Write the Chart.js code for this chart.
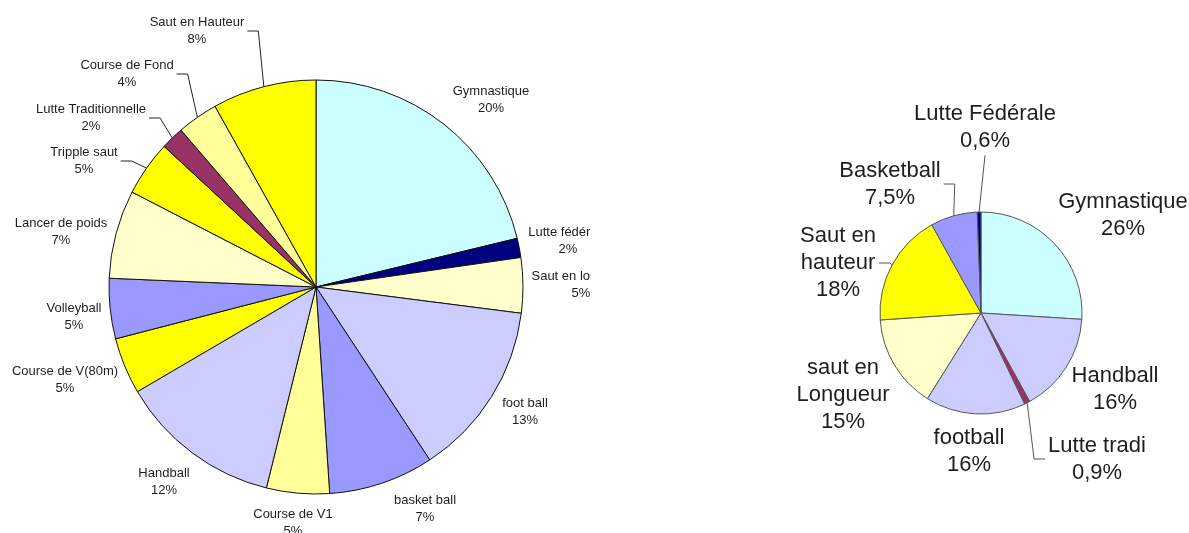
<!DOCTYPE html>
<html lang="fr">
<head>
    <meta charset="UTF-8">
    <title>Répartition des disciplines</title>
    <script src="https://cdn.jsdelivr.net/npm/chart.js"></script>
    <style>
        body {
            margin: 0;
            background: #fff;
            width: 1189px;
            height: 533px;
            overflow: hidden;
            position: relative;
        }
        #leftPie { position: absolute; left: 0; top: 0; }
        #rightPie { position: absolute; left: 600px; top: 0; }
    </style>
</head>
<body>
    <canvas id="leftPie" width="591" height="533"></canvas>
    <canvas id="rightPie" width="589" height="533"></canvas>

    <script>
        // left pie (slice sizes, labels as printed)
        const leftNames = ['Gymnastique', 'Lutte fédérale', 'Saut en longueur', 'foot ball', 'basket ball',
            'Course de V1', 'Handball', 'Course de V(80m)', 'Volleyball', 'Lancer de poids',
            'Tripple saut', 'Lutte Traditionnelle', 'Course de Fond', 'Saut en Hauteur'];
        const leftValues = [21.2, 1.5, 4.3, 13.7, 8.2, 4.9, 12.7, 4.4, 4.7, 6.9, 4.3, 1.8, 3.2, 8.1];
        const leftPct = ['20%', '2%', '5%', '13%', '7%', '5%', '12%', '5%', '5%', '7%', '5%', '2%', '4%', '8%'];

        // right pie
        const rightNames = ['Gymnastique', 'Handball', 'Lutte tradi', 'football', 'saut en\nLongueur',
            'Saut en\nhauteur', 'Basketball', 'Lutte Fédérale'];
        const rightValues = [26, 16, 0.9, 16, 15, 18, 7.5, 0.6];

        const leftColors = ['#CCFFFF', '#000080', '#FFFFCC', '#CCCCFF', '#9999FF', '#FFFF99', '#CCCCFF',
            '#FFFF00', '#9999FF', '#FFFFCC', '#FFFF00', '#993366', '#FFFF99', '#FFFF00'];
        const rightColors = ['#CCFFFF', '#CCCCFF', '#993366', '#CCCCFF', '#FFFFCC', '#FFFF00', '#9999FF', '#000080'];

        // label block centres, offset from the pie centre
        const leftLayout = [[175, -187], [252, -46], [265, -2], [209, 125], [109, 222], [-23, 236], [-152, 195],
            [-251, 93], [-242, 30], [-255, -55], [-232, -126], [-225, -169], [-189, -213], [-119, -256]];
        const leftLeaders = [0, 0, 0, 0, 0, 0, 0, 0, 0, 0, 'side', 'side', 'side', 'side'];
        const rightLayout = [[142, -98], [134, 76], [116, 146], [-12, 138], [-138, 82], [-143, -50], [-91, -129], [4, -186]];
        const rightLeaders = [0, 0, 'side', 0, 0, 'side', 'side', 'below'];

        const fmt = v => String(v).replace('.', ',') + '%';

        const sliceLabels = {
            id: 'sliceLabels',
            afterDraw(chart, args, opts) {
                const ctx = chart.ctx;
                const arcs = chart.getDatasetMeta(0).data;
                ctx.save();
                ctx.font = opts.font;
                ctx.fillStyle = opts.color;
                ctx.strokeStyle = opts.lineColor;
                ctx.lineWidth = 1;
                ctx.textAlign = 'center';
                ctx.textBaseline = 'middle';
                arcs.forEach((arc, i) => {
                    const lines = opts.names[i].split('\n').concat(opts.pct[i]);
                    const cx = arc.x + opts.layout[i][0];
                    const cy = arc.y + opts.layout[i][1];
                    const top = cy - (lines.length - 1) * opts.lineH / 2;
                    lines.forEach((t, k) => ctx.fillText(t, cx, top + k * opts.lineH));

                    const lead = opts.leaders[i];
                    if (!lead) return;
                    const mid = (arc.startAngle + arc.endAngle) / 2;
                    const ex = arc.x + Math.cos(mid) * arc.outerRadius;
                    const ey = arc.y + Math.sin(mid) * arc.outerRadius;
                    ctx.beginPath();
                    if (lead === 'below') {
                        ctx.moveTo(cx, top + (lines.length - 1) * opts.lineH + opts.lineH * 0.55);
                    } else {
                        const w = Math.max(...lines.map(t => ctx.measureText(t).width));
                        const dir = cx < arc.x ? 1 : -1;
                        const sx = cx + dir * (w / 2 + 3);
                        ctx.moveTo(sx, cy);
                        ctx.lineTo(sx + dir * 11, cy);
                    }
                    ctx.lineTo(ex, ey);
                    ctx.stroke();
                });
                ctx.restore();
            }
        };

        new Chart(document.getElementById('leftPie'), {
            type: 'pie',
            data: {
                labels: leftNames,
                datasets: [{
                    data: leftValues,
                    backgroundColor: leftColors,
                    borderColor: '#111',
                    borderWidth: 1
                }]
            },
            options: {
                responsive: false,
                animation: false,
                radius: 207,
                layout: { padding: { left: 109, right: 68, top: 80, bottom: 39 } },
                plugins: {
                    legend: { display: false },
                    tooltip: { enabled: false },
                    sliceLabels: {
                        names: leftNames, pct: leftPct, layout: leftLayout, leaders: leftLeaders,
                        font: '13px "Liberation Sans", Arial, sans-serif', lineH: 17.5,
                        color: '#1e1e1e', lineColor: '#222'
                    }
                }
            },
            plugins: [sliceLabels]
        });

        new Chart(document.getElementById('rightPie'), {
            type: 'pie',
            data: {
                labels: rightNames,
                datasets: [{
                    data: rightValues,
                    backgroundColor: rightColors,
                    borderColor: '#555',
                    borderWidth: 1
                }]
            },
            options: {
                responsive: false,
                animation: false,
                radius: 101,
                layout: { padding: { left: 280, right: 107, top: 212, bottom: 119 } },
                plugins: {
                    legend: { display: false },
                    tooltip: { enabled: false },
                    sliceLabels: {
                        names: rightNames, pct: rightValues.map(fmt), layout: rightLayout, leaders: rightLeaders,
                        font: '22px "Liberation Sans", Arial, sans-serif', lineH: 27,
                        color: '#1e1e1e', lineColor: '#555'
                    }
                }
            },
            plugins: [sliceLabels]
        });
    </script>
</body>
</html>
